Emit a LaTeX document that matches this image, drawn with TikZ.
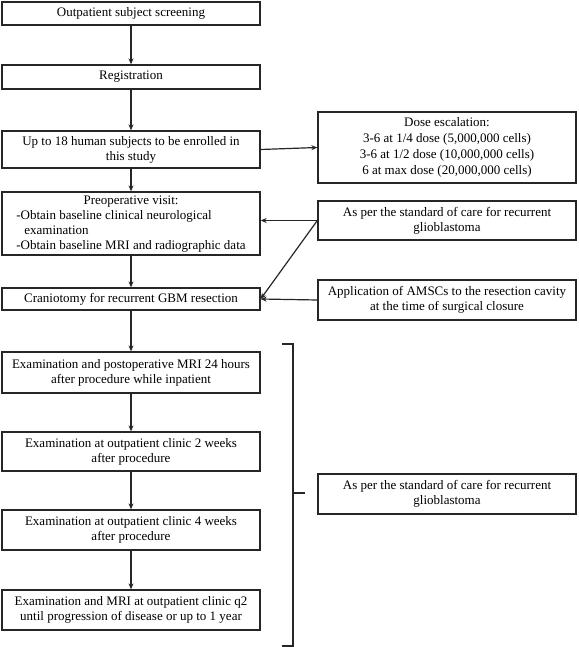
\documentclass[tikz,border=0pt]{standalone}
\usepackage{fontspec}
\setmainfont{Liberation Serif}
\usepackage{tikz}
\usetikzlibrary{arrows.meta,calc,positioning}
\definecolor{linegray}{HTML}{262626}
\tikzset{
  stepbox/.style={draw=linegray,line width=1.3pt,minimum width=258pt,align=center,inner sep=0pt,font=\fontsize{13}{15}\selectfont},
  flow/.style={-{Stealth[length=6pt,width=5pt]},line width=1.2pt,linegray},
  bracket/.style={line width=1.3pt,linegray}
}
\begin{document}
\begin{tikzpicture}[x=1pt,y=-1pt]
  \useasboundingbox (0,0) rectangle (578,647);
  % left column
  \node[stepbox,minimum height=23pt] (screen) at (131,13.5) {Outpatient subject screening};
  \node[stepbox,minimum height=24pt] (reg) at (131,77) {Registration};
  \node[stepbox,minimum height=37pt] (enrol) at (131,149.5) {Up to 18 human subjects to be enrolled in\\this study};
  \node[stepbox,minimum height=63pt] (preop) at (131,223.5)
  {\begin{tabular}{@{}l@{}}\multicolumn{1}{@{}c@{}}{Preoperative visit:}\\-Obtain baseline clinical neurological\\\hspace{8pt}examination\\-Obtain baseline MRI and radiographic data\end{tabular}};
  \node[stepbox,minimum height=22pt] (cranio) at (131,299) {Craniotomy for recurrent GBM resection};
  \node[stepbox,minimum height=41pt] (postop) at (131,372.5) {Examination and postoperative MRI 24 hours\\after procedure while inpatient};
  \node[stepbox,minimum height=39pt] (wktwo) at (131,451.5) {Examination at outpatient clinic 2 weeks\\after procedure};
  \node[stepbox,minimum height=40pt] (wkfour) at (131,530) {Examination at outpatient clinic 4 weeks\\after procedure};
  \node[stepbox,minimum height=40pt] (mri) at (131,610) {Examination and MRI at outpatient clinic q2\\until progression of disease or up to 1 year};
  % right column
  \node[stepbox,minimum height=71pt,font=\fontsize{13}{16}\selectfont] (dose) at (447,147.5)
  {Dose escalation:\\3-6 at 1/4 dose (5,000,000 cells)\\3-6 at 1/2 dose (10,000,000 cells)\\6 at max dose (20,000,000 cells)};
  \node[stepbox,minimum height=39pt] (socone) at (447,220.5) {As per the standard of care for recurrent\\glioblastoma};
  \node[stepbox,minimum height=40pt] (amsc) at (447,300) {Application of AMSCs to the resection cavity\\at the time of surgical closure};
  \node[stepbox,minimum height=40pt] (soctwo) at (447,494) {As per the standard of care for recurrent\\glioblastoma};
  % connectors
  \foreach \a/\b in {screen/reg,reg/enrol,enrol/preop,preop/cranio,cranio/postop,postop/wktwo,wktwo/wkfour,wkfour/mri}
    \draw[flow] (\a.south) -- (\b.north);
  \draw[flow] (enrol.east) -- (dose.west);
  \draw[flow] (socone.west) -- (socone.west -| preop.east);
  \draw[flow] (socone.west) -- (cranio.east);
  \draw[flow] (amsc.west) -- (cranio.east);
  % bracket
  \coordinate (btop) at (282,344);
  \coordinate (bbot) at (282,646);
  \coordinate (btip) at (305,493);
  \draw[bracket] (btop) -- ++(11,0) -- ($(bbot)+(11,0)$) -- (bbot);
  \draw[bracket] (btip -| 293,0) -- (btip);
\end{tikzpicture}
\end{document}
